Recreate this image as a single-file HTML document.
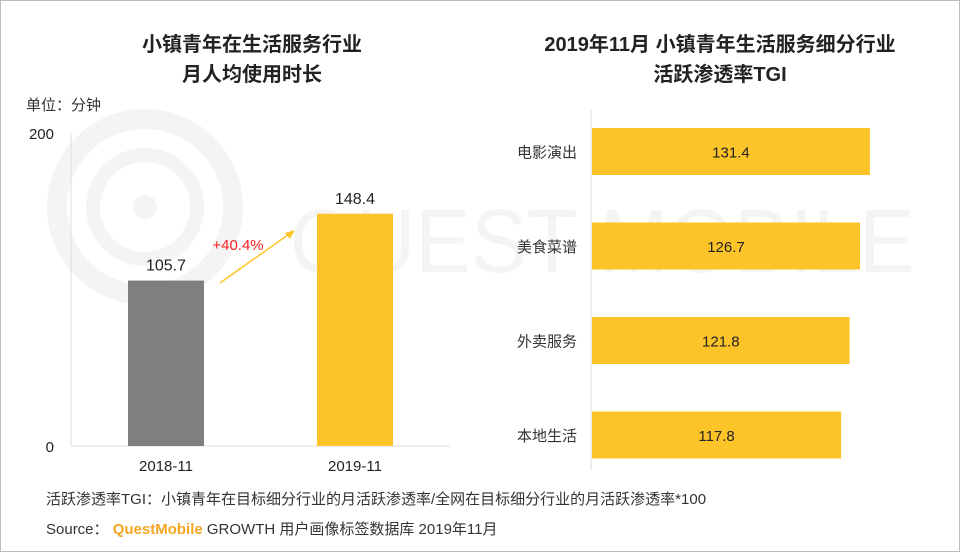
<!DOCTYPE html>
<html><head><meta charset="utf-8"><style>
body{margin:0;width:960px;height:552px;overflow:hidden;background:#fff;font-family:"Liberation Sans","Noto Sans CJK SC",sans-serif;}
#frame{position:absolute;left:0;top:0;width:958px;height:550px;border:1px solid #bdbdbd;}
.t{position:absolute;font-size:20px;font-weight:bold;color:#222;text-align:center;line-height:30px;}
.foot{position:absolute;left:46px;font-size:15px;color:#333;}
</style></head><body>
<div id="frame"></div>
<svg width="960" height="552" style="position:absolute;left:0;top:0">
<g fill="none" stroke="#f4f4f4"><circle cx="145" cy="207" r="88" stroke-width="20"/><circle cx="145" cy="207" r="52" stroke-width="14"/></g>
<circle cx="145" cy="207" r="12" fill="#f4f4f4"/>
<text x="290" y="272" font-size="90" fill="#f4f4f4" font-family="Liberation Sans" textLength="625" lengthAdjust="spacingAndGlyphs">QUEST MOBILE</text>
</svg>
<div class="t" style="left:92px;top:30px;width:320px">小镇青年在生活服务行业<br>月人均使用时长</div>
<div class="t" style="left:520px;top:30px;width:400px">2019年11月 小镇青年生活服务细分行业<br>活跃渗透率TGI</div>
<svg id="c" width="960" height="552" style="position:absolute;left:0;top:0"></svg>
<div class="foot" style="top:488px">活跃渗透率TGI：小镇青年在目标细分行业的月活跃渗透率/全网在目标细分行业的月活跃渗透率*100</div>
<div class="foot" style="top:518px">Source： <span style="color:#f5a623;font-weight:bold">QuestMobile</span> GROWTH 用户画像标签数据库 2019年11月</div>
<script>
const leftCats=['2018-11','2019-11'];
const leftVals=[105.7,148.4];
const leftTicks=['0','200'];
const growth='+40.4%';
const rightCats=['电影演出','美食菜谱','外卖服务','本地生活'];
const rightVals=[131.4,126.7,121.8,117.8];
const NS='http://www.w3.org/2000/svg';
const svg=document.getElementById('c');
function mk(t,a,txt){const e=document.createElementNS(NS,t);for(const k in a)e.setAttribute(k,a[k]);if(txt!==undefined)e.textContent=txt;svg.appendChild(e);return e;}
const ly=v=>446-v*(313/200);
const lx=i=>166+i*189;
let e;
e=mk('line',{x1:71,y1:133,x2:71,y2:446,stroke:'#ddd'});

e=mk('line',{x1:71,y1:446,x2:450,y2:446,stroke:'#ddd'});

e=mk('text',{x:26,y:110,'font-size':15,fill:'#333'},'单位：分钟');

leftTicks.forEach(t=>{e=mk('text',{x:54,y:ly(+t)+6,'font-size':15,fill:'#222','text-anchor':'end'},t);
});
leftVals.forEach((v,i)=>{
e=mk('rect',{x:lx(i)-38,y:ly(v),width:76,height:ly(0)-ly(v),fill:i?'#fdc42a':'#7f7f7f'});

e=mk('text',{x:lx(i),y:ly(v)-10,'font-size':16,fill:'#222','text-anchor':'middle'},v.toFixed(1));

e=mk('text',{x:lx(i),y:471,'font-size':15,fill:'#222','text-anchor':'middle'},leftCats[i]);

});
e=mk('line',{x1:220,y1:283,x2:292,y2:232,stroke:'#fdc42a','stroke-width':1.5});

e=mk('polygon',{points:'295,230 285,233 290,239',fill:'#fdc42a'});

e=mk('text',{x:238,y:250,'font-size':15,fill:'#ff1f1f','text-anchor':'middle'},growth);

const rx=v=>592+v*2.115;
const ry=i=>151.5+i*94.5;
e=mk('line',{x1:591,y1:110,x2:591,y2:470,stroke:'#ddd'});

rightVals.forEach((v,i)=>{
e=mk('rect',{x:rx(0),y:ry(i)-23.5,width:rx(v)-rx(0),height:47,fill:'#fdc42a'});

e=mk('text',{x:(rx(0)+rx(v))/2,y:ry(i)+6,'font-size':15,fill:'#222','text-anchor':'middle'},v.toFixed(1));

e=mk('text',{x:577,y:ry(i)+6,'font-size':15,fill:'#333','text-anchor':'end'},rightCats[i]);

});
</script>
</body></html>
